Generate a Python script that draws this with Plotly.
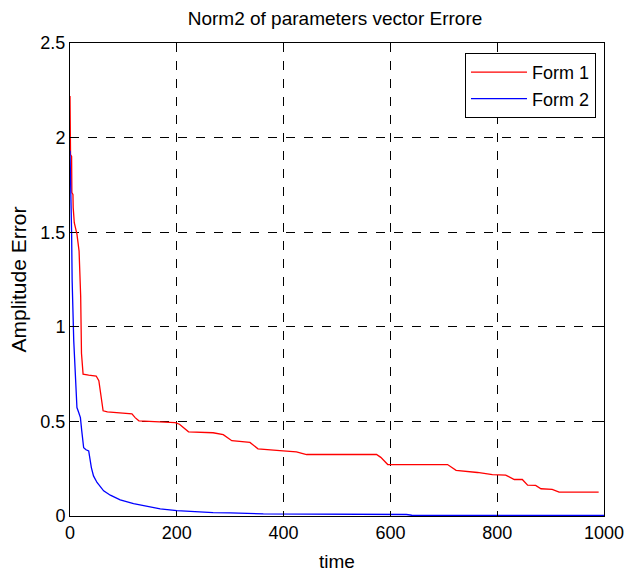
import plotly.graph_objects as go

# Form 1 (red)
t1 = [0, 1, 3, 3.5, 5.5, 6, 8, 13, 17, 20, 21.5, 24.5, 35, 49, 54, 58, 62, 70, 116, 122, 129, 197,
      205, 222, 243, 268, 287, 303, 337, 352, 393, 424, 443, 574, 582, 595, 707, 723, 763, 791,
      816, 832, 847, 857, 872, 882, 903, 916, 990]
v1 = [2.22, 1.91, 1.90, 1.71, 1.70, 1.63, 1.55, 1.49, 1.40, 1.16, 0.86, 0.75, 0.745, 0.74, 0.715,
      0.64, 0.556, 0.55, 0.54, 0.52, 0.503, 0.494, 0.485, 0.445, 0.444, 0.44, 0.43, 0.398, 0.389,
      0.355, 0.346, 0.339, 0.325, 0.325, 0.31, 0.272, 0.272, 0.241, 0.230, 0.219, 0.216, 0.193,
      0.193, 0.163, 0.162, 0.144, 0.141, 0.126, 0.126]

# Form 2 (blue)
t2 = [0, 1, 2, 3, 4, 7, 10, 13, 16, 19.5, 22, 25.6, 30, 35, 40, 44, 50.6, 63, 75.5, 94, 119, 144,
      169, 200, 231, 268, 300, 362, 630, 640, 1000]
v2 = [1.93, 1.65, 1.64, 1.5, 1.245, 0.927, 0.697, 0.573, 0.55, 0.52, 0.45, 0.361, 0.35, 0.344,
      0.256, 0.212, 0.177, 0.133, 0.11, 0.085, 0.065, 0.053, 0.038, 0.028, 0.022, 0.018, 0.016,
      0.011, 0.008, 0.004, 0.003]

x_ticks = [0, 200, 400, 600, 800, 1000]
y_ticks = [0, 0.5, 1, 1.5, 2, 2.5]
y_tick_text = ["0", "0.5", "1", "1.5", "2", "2.5"]

FONT = "Liberation Sans, Arial, sans-serif"

fig = go.Figure()
fig.add_trace(go.Scatter(x=t1, y=v1, mode="lines", name="Form 1",
                         line=dict(color="#ff0000", width=1.3)))
fig.add_trace(go.Scatter(x=t2, y=v2, mode="lines", name="Form 2",
                         line=dict(color="#0000ff", width=1.3)))

axis_common = dict(showline=True, mirror="ticks", linecolor="black", linewidth=1,
                   ticks="inside", ticklen=5, tickcolor="black",
                   showgrid=True, gridcolor="black", griddash="dash", gridwidth=1,
                   zeroline=False, automargin=False, ticklabeloverflow="allow",
                   tickfont=dict(family=FONT, size=18, color="black"))

fig.update_layout(
    width=625, height=574,
    paper_bgcolor="white", plot_bgcolor="white",
    margin=dict(l=70, r=21, t=43, b=58, autoexpand=False),
    title=dict(text="Norm2 of parameters vector Errore", x=0.536, xanchor="center",
               y=1 - 18 / 574, yanchor="middle", yref="container",
               font=dict(family=FONT, size=19, color="black")),
    xaxis=dict(range=[0, 1000], tickvals=x_ticks,
               title=dict(text="time", font=dict(family=FONT, size=19, color="black"), standoff=13),
               **axis_common),
    yaxis=dict(range=[0, 2.5], tickvals=y_ticks, ticktext=y_tick_text, **axis_common),
    annotations=[dict(text="Amplitude Error", textangle=-90, xref="paper", yref="paper",
                      x=0, y=0.5, xanchor="center", yanchor="middle", xshift=-52,
                      showarrow=False, font=dict(family=FONT, size=21, color="black"))],
    legend=dict(x=0.985, xanchor="right", y=0.979, yanchor="top",
                bgcolor="white", bordercolor="black", borderwidth=1,
                font=dict(family=FONT, size=18, color="black"),
                itemwidth=56, tracegroupgap=0),
    showlegend=True,
)

fig.write_html("out.html", config={"displayModeBar": False},
               post_script="document.body.style.margin='0';document.body.style.overflow='hidden';")
